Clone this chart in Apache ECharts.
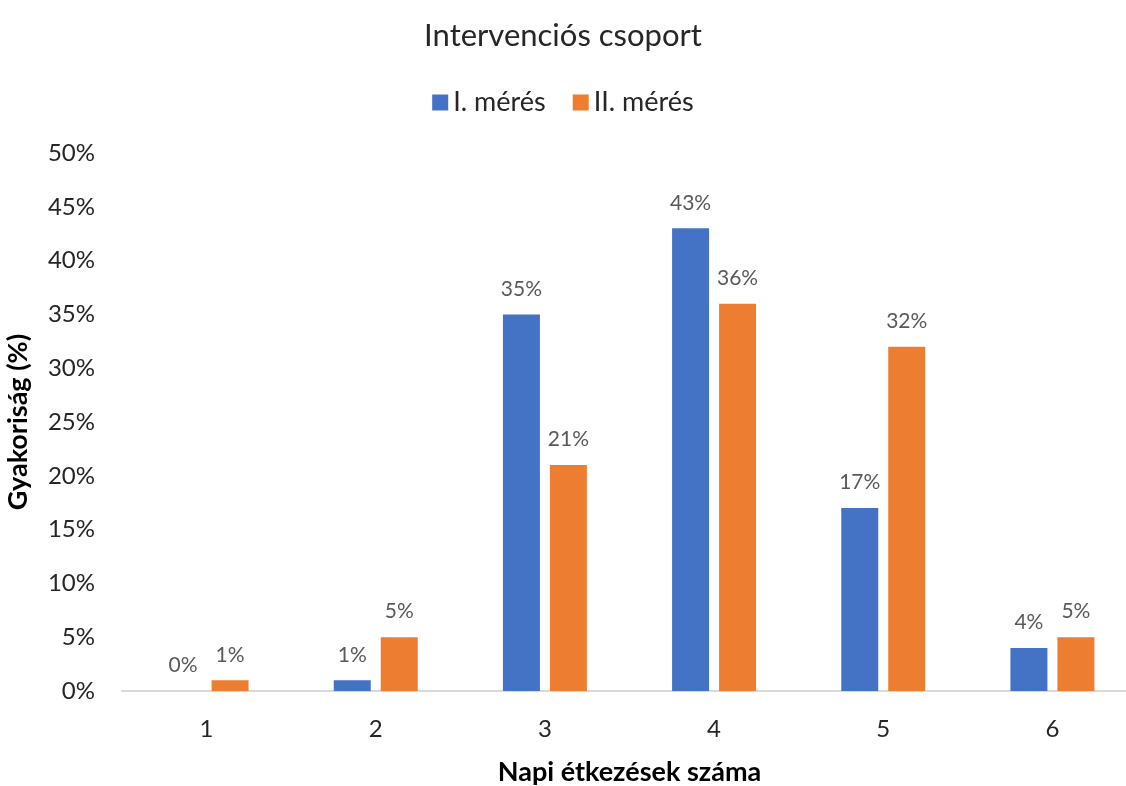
<!DOCTYPE html>
<html>
<head>
<meta charset="utf-8">
<script src="https://cdn.jsdelivr.net/npm/echarts@6/dist/echarts.min.js"></script>
<style>
html,body{margin:0;padding:0;background:#fff;}
#chart{width:1126px;height:786px;}
</style>
</head>
<body>
<div id="chart"></div>
<script>
// Napi étkezések száma – Intervenciós csoport
const categories = ['1', '2', '3', '4', '5', '6'];
const meres1 = [0, 1, 35, 43, 17, 4];
const meres2 = [1, 5, 21, 36, 32, 5];
const yTicks = { min: 0, max: 50, step: 5 };

const FONT = 'Lato, "Open Sans", sans-serif';
const chart = echarts.init(document.getElementById('chart'));

const labelStyle = {
  show: true,
  position: 'top',
  distance: 15,
  formatter: '{c}%',
  color: '#595959',
  fontFamily: FONT,
  fontSize: 21
};

chart.setOption({
  animation: false,
  backgroundColor: '#ffffff',
  title: {
    text: 'Intervenciós csoport',
    left: 'center',
    top: 15,
    textStyle: { fontFamily: FONT, fontSize: 31, fontWeight: 'normal', color: '#262626' }
  },
  legend: {
    top: 84,
    left: 'center',
    itemWidth: 16,
    itemHeight: 16,
    itemGap: 27,
    icon: 'rect',
    textStyle: { fontFamily: FONT, fontSize: 27, color: '#262626' },
    data: ['I. mérés', 'II. mérés']
  },
  grid: { left: 122, top: 153, bottom: 95, right: -11, containLabel: false, outerBoundsMode: 'none' },
  xAxis: {
    type: 'category',
    data: categories,
    name: 'Napi étkezések száma',
    nameLocation: 'middle',
    nameGap: 68,
    nameTextStyle: { fontFamily: FONT, fontSize: 27, fontWeight: 'bold', color: '#000' },
    axisLine: { lineStyle: { color: '#d9d9d9', width: 2 } },
    axisTick: { show: false },
    axisLabel: { fontFamily: FONT, fontSize: 24, color: '#262626', margin: 26 }
  },
  yAxis: {
    type: 'value',
    min: yTicks.min,
    max: yTicks.max,
    interval: yTicks.step,
    name: 'Gyakoriság (%)',
    nameLocation: 'middle',
    nameGap: 90,
    nameRotate: 90,
    nameTextStyle: { fontFamily: FONT, fontSize: 27, fontWeight: 'bold', color: '#000' },
    axisLine: { show: false },
    axisTick: { show: false },
    splitLine: { show: false },
    axisLabel: { formatter: '{value}%', fontFamily: FONT, fontSize: 24, color: '#262626', margin: 27 }
  },
  series: [
    {
      name: 'I. mérés',
      type: 'bar',
      data: meres1,
      barWidth: 37,
      barGap: '27%',
      itemStyle: { color: '#4472C4' },
      label: labelStyle
    },
    {
      name: 'II. mérés',
      type: 'bar',
      data: meres2,
      barWidth: 37,
      barGap: '27%',
      itemStyle: { color: '#ED7D31' },
      label: labelStyle
    }
  ]
});
</script>
</body>
</html>
